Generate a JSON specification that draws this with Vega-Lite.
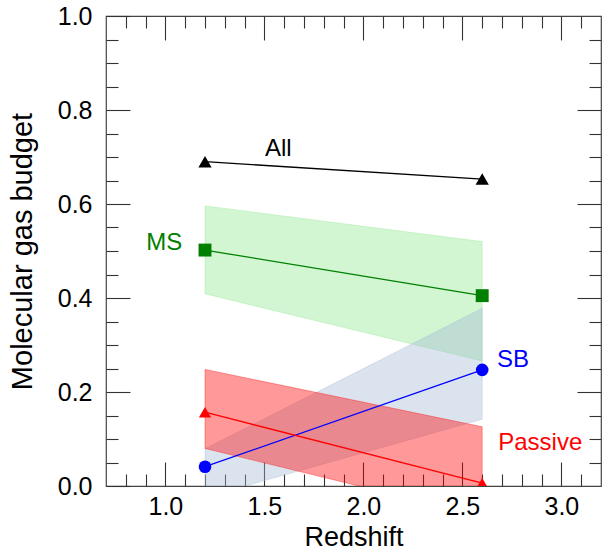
{
  "$schema": "https://vega.github.io/schema/vega-lite/v6.json",
  "width": 495,
  "height": 470,
  "autosize": {"type": "none"},
  "padding": {"left": 106, "top": 16, "right": 2, "bottom": 61},
  "background": "white",
  "config": {
    "view": {"stroke": "#444", "strokeWidth": 1.2},
    "axis": {
      "domain": false,
      "grid": false,
      "labelFont": "Liberation Sans",
      "titleFont": "Liberation Sans",
      "labelColor": "black",
      "titleColor": "black",
      "titleFontWeight": "normal",
      "tickColor": "#333",
      "tickWidth": 1.1,
      "labelFlush": false,
      "labelOverlap": false
    }
  },
  "datasets": {
    "points": [
      {"series": "All", "z": 1.2, "f": 0.69},
      {"series": "All", "z": 2.6, "f": 0.653},
      {"series": "MS", "z": 1.2, "f": 0.502},
      {"series": "MS", "z": 2.6, "f": 0.405},
      {"series": "SB", "z": 1.2, "f": 0.041},
      {"series": "SB", "z": 2.6, "f": 0.247},
      {"series": "Passive", "z": 1.2, "f": 0.157},
      {"series": "Passive", "z": 2.6, "f": 0.006}
    ],
    "bands": [
      {"series": "MS", "z": 1.2, "lo": 0.409, "hi": 0.596},
      {"series": "MS", "z": 2.6, "lo": 0.266, "hi": 0.52},
      {"series": "SB", "z": 1.2, "lo": -0.024, "hi": 0.079},
      {"series": "SB", "z": 2.6, "lo": 0.142, "hi": 0.378},
      {"series": "Passive", "z": 1.2, "lo": 0.08, "hi": 0.248},
      {"series": "Passive", "z": 2.6, "lo": -0.064, "hi": 0.126}
    ],
    "labels": [
      {"series": "All", "label": "All", "z": 1.57, "f": 0.718},
      {"series": "MS", "label": "MS", "z": 0.994, "f": 0.517},
      {"series": "SB", "label": "SB", "z": 2.756, "f": 0.268},
      {"series": "Passive", "label": "Passive", "z": 2.893, "f": 0.091}
    ]
  },
  "resolve": {"axis": {"x": "independent", "y": "independent"}},
  "layer": [
    {
      "data": {"name": "bands"},
      "mark": {"type": "area", "clip": true, "fillOpacity": 0.4, "strokeOpacity": 0.35, "strokeWidth": 1},
      "encoding": {
        "x": {
          "field": "z", "type": "quantitative",
          "scale": {"domain": [0.7, 3.2], "nice": false, "zero": false},
          "axis": {
            "orient": "bottom",
            "title": "Redshift",
            "titleFontSize": 27,
            "titlePadding": -7,
            "labelFontSize": 25,
            "labelPadding": 32,
            "values": [0.8, 0.9, 1.0, 1.1, 1.2, 1.3, 1.4, 1.5, 1.6, 1.7, 1.8, 1.9, 2.0, 2.1, 2.2, 2.3, 2.4, 2.5, 2.6, 2.7, 2.8, 2.9, 3.0, 3.1],
            "labelExpr": "abs(datum.value*2 - round(datum.value*2)) < 0.001 ? format(datum.value, '.1f') : ''",
            "tickSize": {"condition": {"test": "abs(datum.value*2 - round(datum.value*2)) < 0.001", "value": -24}, "value": -12}
          }
        },
        "y": {
          "field": "lo", "type": "quantitative",
          "scale": {"domain": [0, 1], "nice": false, "zero": false},
          "axis": {
            "orient": "left",
            "title": "Molecular gas budget",
            "titleFontSize": 29,
            "titlePadding": 20,
            "labelFontSize": 25,
            "labelPadding": 38,
            "values": [0, 0.05, 0.1, 0.15, 0.2, 0.25, 0.3, 0.35, 0.4, 0.45, 0.5, 0.55, 0.6, 0.65, 0.7, 0.75, 0.8, 0.85, 0.9, 0.95, 1.0],
            "labelExpr": "abs(datum.value*5 - round(datum.value*5)) < 0.001 ? format(datum.value, '.1f') : ''",
            "tickSize": {"condition": {"test": "abs(datum.value*5 - round(datum.value*5)) < 0.001", "value": -24}, "value": -12}
          }
        },
        "y2": {"field": "hi"},
        "fill": {
          "field": "series", "type": "nominal", "legend": null,
          "scale": {"domain": ["MS", "SB", "Passive"], "range": ["#8fe98f", "#a5b9d4", "#ff0000"]}
        },
        "stroke": {
          "field": "series", "type": "nominal", "legend": null,
          "scale": {"domain": ["MS", "SB", "Passive"], "range": ["#8fe98f", "#a5b9d4", "#ff0000"]}
        }
      }
    },
    {
      "data": {"name": "points"},
      "mark": {"type": "line", "strokeWidth": 1.3, "clip": true},
      "encoding": {
        "x": {
          "field": "z", "type": "quantitative",
          "axis": {
            "orient": "top", "title": null, "labels": false,
            "values": [0.8, 0.9, 1.0, 1.1, 1.2, 1.3, 1.4, 1.5, 1.6, 1.7, 1.8, 1.9, 2.0, 2.1, 2.2, 2.3, 2.4, 2.5, 2.6, 2.7, 2.8, 2.9, 3.0, 3.1],
            "tickSize": {"condition": {"test": "abs(datum.value*2 - round(datum.value*2)) < 0.001", "value": -24}, "value": -12}
          }
        },
        "y": {
          "field": "f", "type": "quantitative",
          "axis": {
            "orient": "right", "title": null, "labels": false,
            "values": [0.05, 0.1, 0.15, 0.2, 0.25, 0.3, 0.35, 0.4, 0.45, 0.5, 0.55, 0.6, 0.65, 0.7, 0.75, 0.8, 0.85, 0.9, 0.95],
            "tickSize": {"condition": {"test": "abs(datum.value*5 - round(datum.value*5)) < 0.001", "value": -24}, "value": -12}
          }
        },
        "color": {
          "field": "series", "type": "nominal", "legend": null,
          "scale": {"domain": ["All", "MS", "SB", "Passive"], "range": ["#000000", "#008000", "#0000ff", "#ff0000"]}
        }
      }
    },
    {
      "data": {"name": "points"},
      "mark": {"type": "point", "filled": true, "opacity": 1, "clip": true},
      "encoding": {
        "x": {"field": "z", "type": "quantitative", "axis": null},
        "y": {"field": "f", "type": "quantitative", "axis": null},
        "color": {"field": "series", "type": "nominal", "legend": null},
        "shape": {
          "field": "series", "type": "nominal", "legend": null,
          "scale": {"domain": ["All", "MS", "SB", "Passive"], "range": ["triangle-up", "square", "circle", "triangle-up"]}
        },
        "size": {
          "field": "series", "type": "nominal", "legend": null,
          "scale": {"domain": ["All", "MS", "SB", "Passive"], "range": [175, 150, 120, 175]}
        }
      }
    },
    {
      "data": {"name": "labels"},
      "mark": {"type": "text", "font": "Liberation Sans", "fontSize": 24, "align": "center", "baseline": "middle"},
      "encoding": {
        "x": {"field": "z", "type": "quantitative", "axis": null},
        "y": {"field": "f", "type": "quantitative", "axis": null},
        "text": {"field": "label"},
        "color": {"field": "series", "type": "nominal", "legend": null}
      }
    }
  ]
}
